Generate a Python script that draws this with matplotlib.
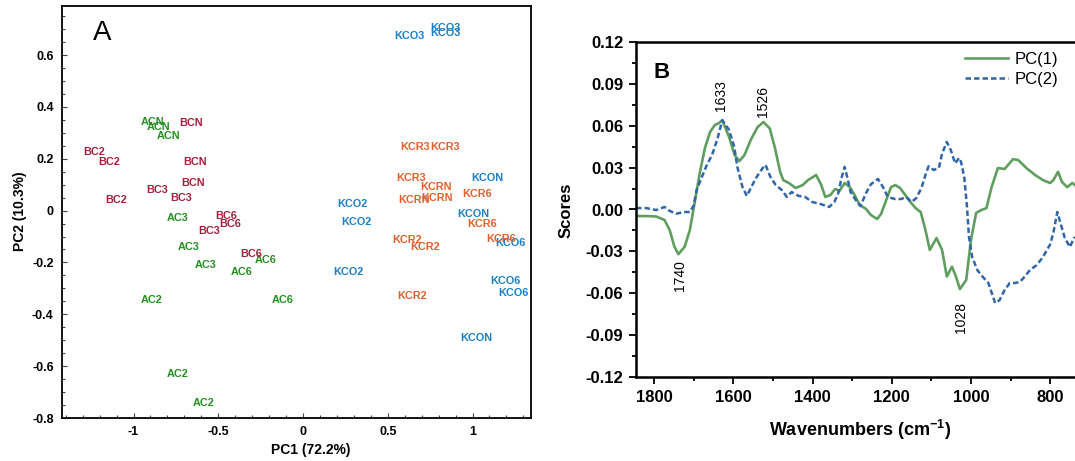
import matplotlib
matplotlib.use("Agg")
import matplotlib.pyplot as plt
from matplotlib.ticker import MultipleLocator, FuncFormatter

plt.rcParams['font.family'] = ['Liberation Sans', 'DejaVu Sans']
plt.rcParams['axes.unicode_minus'] = False
plt.rcParams['mathtext.fontset'] = 'custom'
plt.rcParams['mathtext.rm'] = 'Liberation Sans'
plt.rcParams['mathtext.bf'] = 'Liberation Sans:bold'

# ---------------- Panel A data (PCA scores) ----------------
ac_labels = ["ACN", "ACN", "ACN", "AC3", "AC3", "AC3", "AC2", "AC2", "AC2", "AC6", "AC6", "AC6"]
ac_pc1 = [-0.885, -0.855, -0.791, -0.737, -0.673, -0.572, -0.891, -0.737, -0.584, -0.218, -0.360, -0.118]
ac_pc2 = [0.340, 0.321, 0.286, -0.027, -0.139, -0.209, -0.344, -0.630, -0.742, -0.189, -0.236, -0.344]

bc_labels = ["BCN", "BCN", "BCN", "BC2", "BC2", "BC2", "BC3", "BC3", "BC3", "BC6", "BC6", "BC6"]
bc_pc1 = [-0.661, -0.637, -0.649, -1.233, -1.145, -1.103, -0.861, -0.720, -0.555, -0.454, -0.431, -0.307]
bc_pc2 = [0.336, 0.189, 0.108, 0.224, 0.189, 0.039, 0.081, 0.050, -0.077, -0.019, -0.050, -0.166]

kco_labels = ["KCO3", "KCO3", "KCO3", "KCO2", "KCO2", "KCO2", "KCON", "KCON", "KCON", "KCO6", "KCO6", "KCO6"]
kco_pc1 = [0.625, 0.838, 0.838, 0.289, 0.313, 0.265, 1.086, 1.003, 1.021, 1.221, 1.192, 1.239]
kco_pc2 = [0.673, 0.704, 0.684, 0.027, -0.043, -0.236, 0.124, -0.015, -0.491, -0.124, -0.271, -0.317]

kcr_labels = ["KCR3", "KCR3", "KCR3", "KCRN", "KCRN", "KCRN", "KCR6", "KCR6", "KCR6", "KCR2", "KCR2", "KCR2"]
kcr_pc1 = [0.661, 0.838, 0.637, 0.785, 0.791, 0.655, 1.027, 1.056, 1.168, 0.614, 0.720, 0.643]
kcr_pc2 = [0.247, 0.247, 0.124, 0.089, 0.050, 0.039, 0.062, -0.050, -0.108, -0.112, -0.139, -0.329]

# ---------------- Panel B data (loadings) ----------------
pc1_wn = [1846, 1820, 1795, 1774, 1761, 1749, 1739, 1723, 1710, 1698, 1685, 1672, 1659, 1647,
          1636, 1628, 1611, 1597, 1585, 1572, 1556, 1539, 1524, 1508, 1495, 1482, 1474, 1460,
          1443, 1425, 1412, 1391, 1378, 1368, 1355, 1343, 1332, 1319, 1306, 1294, 1281, 1265,
          1253, 1237, 1227, 1214, 1202, 1191, 1179, 1166, 1153, 1140, 1127, 1115, 1104, 1094,
          1087, 1073, 1061, 1048, 1038, 1028, 1012, 1000, 987, 974, 961, 948, 932, 915, 894,
          881, 860, 838, 818, 800, 792, 780, 770, 757, 744, 731, 715]
pc1_val = [-0.0047, -0.0047, -0.005, -0.0075, -0.0147, -0.0266, -0.032, -0.0266, -0.0147, 0.0047,
           0.026, 0.044, 0.0555, 0.0605, 0.062, 0.064, 0.052, 0.039, 0.0347, 0.039, 0.050, 0.059,
           0.0627, 0.058, 0.044, 0.027, 0.021, 0.019, 0.0154, 0.0175, 0.021, 0.0247, 0.0175,
           0.009, 0.0104, 0.0147, 0.0133, 0.019, 0.016, 0.0104, 0.0032, 0.0004, -0.0039, -0.0068,
           -0.0032, 0.0068, 0.016, 0.0175, 0.0154, 0.0104, 0.0054, 0.001, -0.0018, -0.0147,
           -0.029, -0.024, -0.0204, -0.029, -0.048, -0.041, -0.048, -0.057, -0.0505, -0.0219,
           -0.0025, -0.0004, 0.001, 0.016, 0.0297, 0.029, 0.036, 0.0355, 0.0297, 0.0247, 0.021,
           0.019, 0.021, 0.027, 0.0197, 0.016, 0.019, 0.016, 0.0147]

pc2_wn = [1846, 1820, 1795, 1774, 1761, 1744, 1726, 1710, 1700, 1693, 1680, 1667, 1654, 1641,
          1628, 1611, 1598, 1590, 1577, 1566, 1556, 1543, 1526, 1519, 1506, 1493, 1478, 1465,
          1453, 1435, 1419, 1401, 1381, 1358, 1345, 1335, 1327, 1319, 1312, 1304, 1291, 1279,
          1265, 1253, 1235, 1222, 1210, 1192, 1176, 1164, 1150, 1138, 1125, 1115, 1107, 1094,
          1081, 1073, 1061, 1051, 1040, 1030, 1025, 1017, 1010, 1005, 997, 984, 971, 956, 946,
          939, 928, 915, 902, 890, 877, 864, 851, 834, 818, 800, 792, 782, 774, 763, 750, 740,
          727, 715]
pc2_val = [0.001, 0.001, -0.0004, 0.0018, -0.001, -0.003, -0.0018, -0.0018, 0.003, 0.014, 0.023,
           0.032, 0.039, 0.050, 0.064, 0.057, 0.045, 0.0305, 0.016, 0.0097, 0.0154, 0.0226,
           0.0297, 0.032, 0.023, 0.0175, 0.014, 0.009, 0.0125, 0.0097, 0.009, 0.0054, 0.004,
           0.0018, 0.0054, 0.0118, 0.0226, 0.0305, 0.0226, 0.0125, 0.0068, 0.0025, 0.0118,
           0.018, 0.0219, 0.016, 0.009, 0.0075, 0.0075, 0.009, 0.0054, 0.0082, 0.0154, 0.0247,
           0.031, 0.0283, 0.0297, 0.040, 0.0484, 0.0426, 0.033, 0.037, 0.034, 0.0233, 0.0018,
           -0.0197, -0.034, -0.0434, -0.048, -0.0527, -0.061, -0.067, -0.065, -0.0577, -0.0527,
           -0.0527, -0.052, -0.048, -0.0434, -0.0398, -0.034, -0.025, -0.0168, -0.0018, -0.0097,
           -0.0204, -0.0269, -0.0204, -0.0197, -0.019]

peak_wn = [1633, 1526, 1740, 1028]
peak_lbl_y = [0.0813, 0.0777, -0.0476, -0.0777]
peak_lbl_x = [1631, 1524, 1736, 1025]

W, H = 1075, 461
fig = plt.figure(figsize=(W / 100, H / 100), dpi=100)

# ---------------- Panel A ----------------
axA = fig.add_axes([62 / W, 1 - 418 / H, (531 - 62) / W, (418 - 6) / H])
groups = [
    (ac_labels, ac_pc1, ac_pc2, "#23901f"),
    (bc_labels, bc_pc1, bc_pc2, "#a41f3c"),
    (kco_labels, kco_pc1, kco_pc2, "#1a80c8"),
    (kcr_labels, kcr_pc1, kcr_pc2, "#e2602a"),
]
for labels, xs, ys, col in groups:
    for lb, x, y in zip(labels, xs, ys):
        axA.text(x, y, lb, color=col, fontsize=7.8, fontweight='bold', ha='center', va='center')

axA.set_xlim(-1.422, 1.345)
axA.set_ylim(-0.80, 0.789)
axA.xaxis.set_major_locator(MultipleLocator(0.5))
axA.xaxis.set_minor_locator(MultipleLocator(0.1))
axA.yaxis.set_major_locator(MultipleLocator(0.2))
axA.yaxis.set_minor_locator(MultipleLocator(0.05))
fmtA = FuncFormatter(lambda v, p: ("%g" % round(v, 3)).replace("-0", "-0") if abs(v) > 1e-9 else "0")
axA.xaxis.set_major_formatter(fmtA)
axA.yaxis.set_major_formatter(fmtA)
axA.tick_params(which='both', direction='in', top=False, right=False, labelsize=9, width=0.8, colors='#444444',
                labelcolor='black')
axA.tick_params(which='major', length=3.5, pad=6)
axA.tick_params(which='minor', length=2)
for lab in axA.get_xticklabels() + axA.get_yticklabels():
    lab.set_fontweight('bold')
for s in axA.spines.values():
    s.set_linewidth(1.3)
axA.text(0.085, 0.935, "A", transform=axA.transAxes, fontsize=20, ha='center', va='center')
fig.text(311 / W, 1 - 450 / H, "PC1 (72.2%)", fontsize=10, fontweight='bold', ha='center', va='center')
fig.text(20 / W, 1 - 211 / H, "PC2 (10.3%)", fontsize=10, fontweight='bold', ha='center', va='center',
         rotation=90)

# ---------------- Panel B ----------------
axB = fig.add_axes([636 / W, 1 - 377 / H, (1085 - 636) / W, (377 - 42) / H])
axB.plot(pc1_wn, pc1_val, color='#5f9e5f', lw=1.9, label='PC(1)')
axB.plot(pc2_wn, pc2_val, color='#2f66a8', lw=1.8, linestyle=(0, (2.2, 1.2)), label='PC(2)')
axB.set_xlim(1846, 712)
axB.set_ylim(-0.12, 0.12)
axB.xaxis.set_major_locator(MultipleLocator(200))
axB.xaxis.set_minor_locator(MultipleLocator(100))
axB.yaxis.set_major_locator(MultipleLocator(0.03))
axB.yaxis.set_minor_locator(MultipleLocator(0.015))
axB.yaxis.set_major_formatter(FuncFormatter(lambda v, p: "%.2f" % (0.0 if abs(v) < 1e-9 else v)))
axB.tick_params(which='both', direction='out', top=False, right=False, labelsize=12, width=1.3)
axB.tick_params(which='major', length=5, pad=4)
axB.tick_params(which='minor', length=3)
for lab in axB.get_xticklabels() + axB.get_yticklabels():
    lab.set_fontweight('bold')
for s in axB.spines.values():
    s.set_linewidth(1.8)
axB.spines['right'].set_visible(False)

for wx, ly in zip(peak_lbl_x, peak_lbl_y):
    axB.text(wx, ly, str([p for p in peak_wn if abs(p - wx) < 10][0]), rotation=90, fontsize=10,
             ha='center', va='center')

axB.text(662 / W, 1 - 72 / H, "B", transform=fig.transFigure, fontsize=16, fontweight='bold',
         ha='center', va='center')
fig.text(860 / W, 1 - 430 / H, r"Wavenumbers (cm$^{\mathbf{-1}}$)", fontsize=13, fontweight='bold',
         ha='center', va='center')
fig.text(566 / W, 1 - 210 / H, "Scores", fontsize=12, fontweight='bold', ha='center', va='center',
         rotation=90)

leg = axB.legend(loc='upper left', bbox_to_anchor=(965 / W, 1 - 52 / H), bbox_transform=fig.transFigure,
                 frameon=False, fontsize=12, handlelength=2.6, handletextpad=0.35, labelspacing=0.3,
                 borderpad=0, borderaxespad=0)

fig.savefig("out.png", dpi=100)
